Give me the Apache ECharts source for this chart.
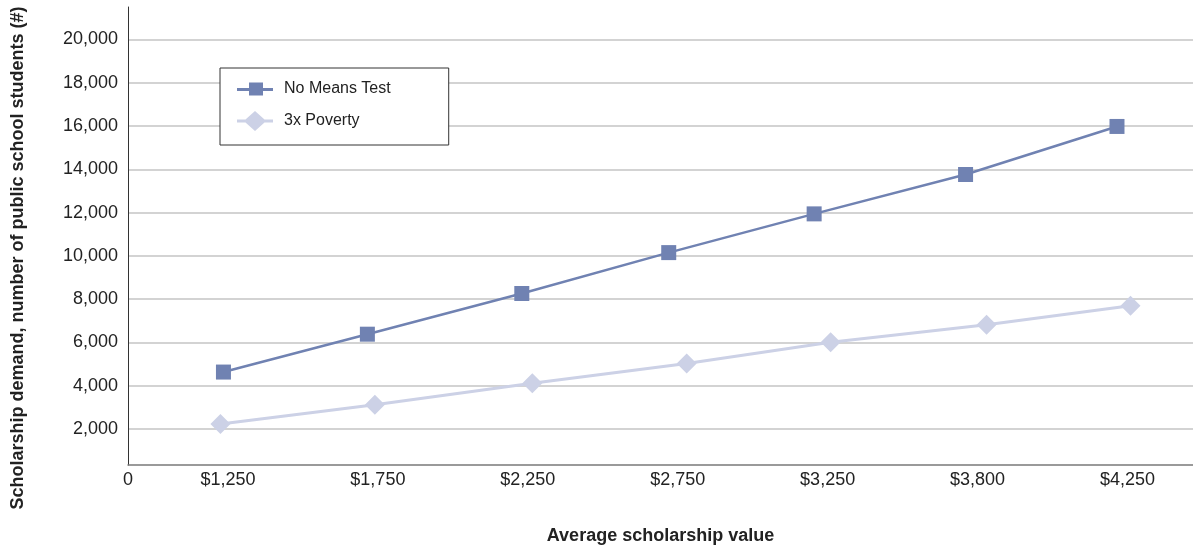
<!DOCTYPE html>
<html>
<head>
<meta charset="utf-8">
<title>Scholarship demand</title>
<script src="https://cdn.jsdelivr.net/npm/echarts@6/dist/echarts.min.js"></script>
<style>
  html, body { margin: 0; padding: 0; background: #fff; }
  #chart { width: 1193px; height: 550px; }
</style>
</head>
<body>
<div id="chart"></div>
<script>
// Average scholarship value categories (tick labels along the x axis)
const xTickLabels = ['$1,250', '$1,750', '$2,250', '$2,750', '$3,250', '$3,800', '$4,250'];
// Horizontal placement of each point, in category-slot units (0 = first slot)
const noMeansX = [-0.03, 0.93, 1.96, 2.94, 3.91, 4.92, 5.93];
const povertyX = [-0.05, 0.98, 2.03, 3.06, 4.02, 5.06, 6.02];
// Scholarship demand, number of public school students
const noMeansTest = [4630, 6380, 8260, 10150, 11940, 13760, 15980];
const threeXPoverty = [2230, 3120, 4110, 5030, 6010, 6820, 7690];
// Labelled values on the y axis
const yTickValues = [2000, 4000, 6000, 8000, 10000, 12000, 14000, 16000, 18000, 20000];

const FONT = '"Liberation Sans", Arial, Helvetica, sans-serif';
const X_MIN = -2 / 3;
const xTickValues = [X_MIN].concat(xTickLabels.map((_, i) => i));

const pairs = (xs, ys) => ys.map((v, i) => [xs[i], v]);

const chart = echarts.init(document.getElementById('chart'), null, { renderer: 'canvas' });

chart.setOption({
  animation: false,
  backgroundColor: '#ffffff',
  textStyle: { fontFamily: FONT },
  grid: { left: 128, right: 0, top: 7, bottom: 81, containLabel: false },
  xAxis: {
    type: 'value',
    min: X_MIN,
    max: 6.437,
    name: 'Average scholarship value',
    nameLocation: 'middle',
    nameGap: 62,
    nameTextStyle: { fontFamily: FONT, fontSize: 18, fontWeight: 'bold', color: '#222' },
    axisLine: { onZero: false, lineStyle: { color: '#7a7a7a', width: 1.5 } },
    axisTick: { show: false, customValues: xTickValues },
    splitLine: { show: false },
    axisLabel: {
      customValues: xTickValues,
      margin: 6,
      fontFamily: FONT,
      fontSize: 18,
      color: '#222',
      formatter: (v) => (v < -0.5 ? '0' : xTickLabels[Math.round(v)])
    }
  },
  yAxis: {
    type: 'value',
    min: 335,
    max: 21500,
    axisLine: { show: true, onZero: false, lineStyle: { color: '#333', width: 1 } },
    axisTick: { show: false, customValues: yTickValues },
    splitLine: { show: true, lineStyle: { color: '#c4c4c4', width: 1.5 } },
    axisLabel: {
      customValues: yTickValues,
      margin: 10,
      fontFamily: FONT,
      fontSize: 18,
      color: '#222',
      formatter: (v) => v.toLocaleString('en-US')
    }
  },
  legend: {
    orient: 'vertical',
    left: 220,
    top: 68,
    padding: [11, 58, 14, 17],
    itemGap: 12,
    itemWidth: 36,
    itemHeight: 20,
    backgroundColor: '#ffffff',
    borderColor: '#333',
    borderWidth: 1,
    textStyle: { fontFamily: FONT, fontSize: 16, lineHeight: 20, color: '#222', padding: [0, 0, 0, 6] },
    data: [
      { name: 'No Means Test', icon: 'path://M0,8.5 L36,8.5 L36,11.5 L0,11.5 Z M12,3 L26,3 L26,16 L12,16 Z' },
      { name: '3x Poverty', icon: 'path://M0,8.5 L8.5,8.5 L18,0 L27.5,8.5 L36,8.5 L36,11.5 L27.5,11.5 L18,20 L8.5,11.5 L0,11.5 Z' }
    ]
  },
  graphic: [{
    type: 'text',
    rotation: Math.PI / 2,
    x: 18,
    y: 258,
    style: {
      text: 'Scholarship demand, number of public school students (#)',
      fontFamily: FONT,
      fontSize: 18,
      fontWeight: 'bold',
      fill: '#222',
      align: 'center',
      verticalAlign: 'middle'
    }
  }],
  series: [
    {
      name: 'No Means Test',
      type: 'line',
      data: pairs(noMeansX, noMeansTest),
      symbol: 'rect',
      symbolSize: 15,
      color: '#7082b2',
      lineStyle: { color: '#7082b2', width: 2.5 },
      itemStyle: { color: '#7082b2' },
      z: 3
    },
    {
      name: '3x Poverty',
      type: 'line',
      data: pairs(povertyX, threeXPoverty),
      symbol: 'diamond',
      symbolSize: 20,
      color: '#ccd1e6',
      lineStyle: { color: '#ccd1e6', width: 3 },
      itemStyle: { color: '#ccd1e6' },
      z: 2
    }
  ]
});
</script>
</body>
</html>
